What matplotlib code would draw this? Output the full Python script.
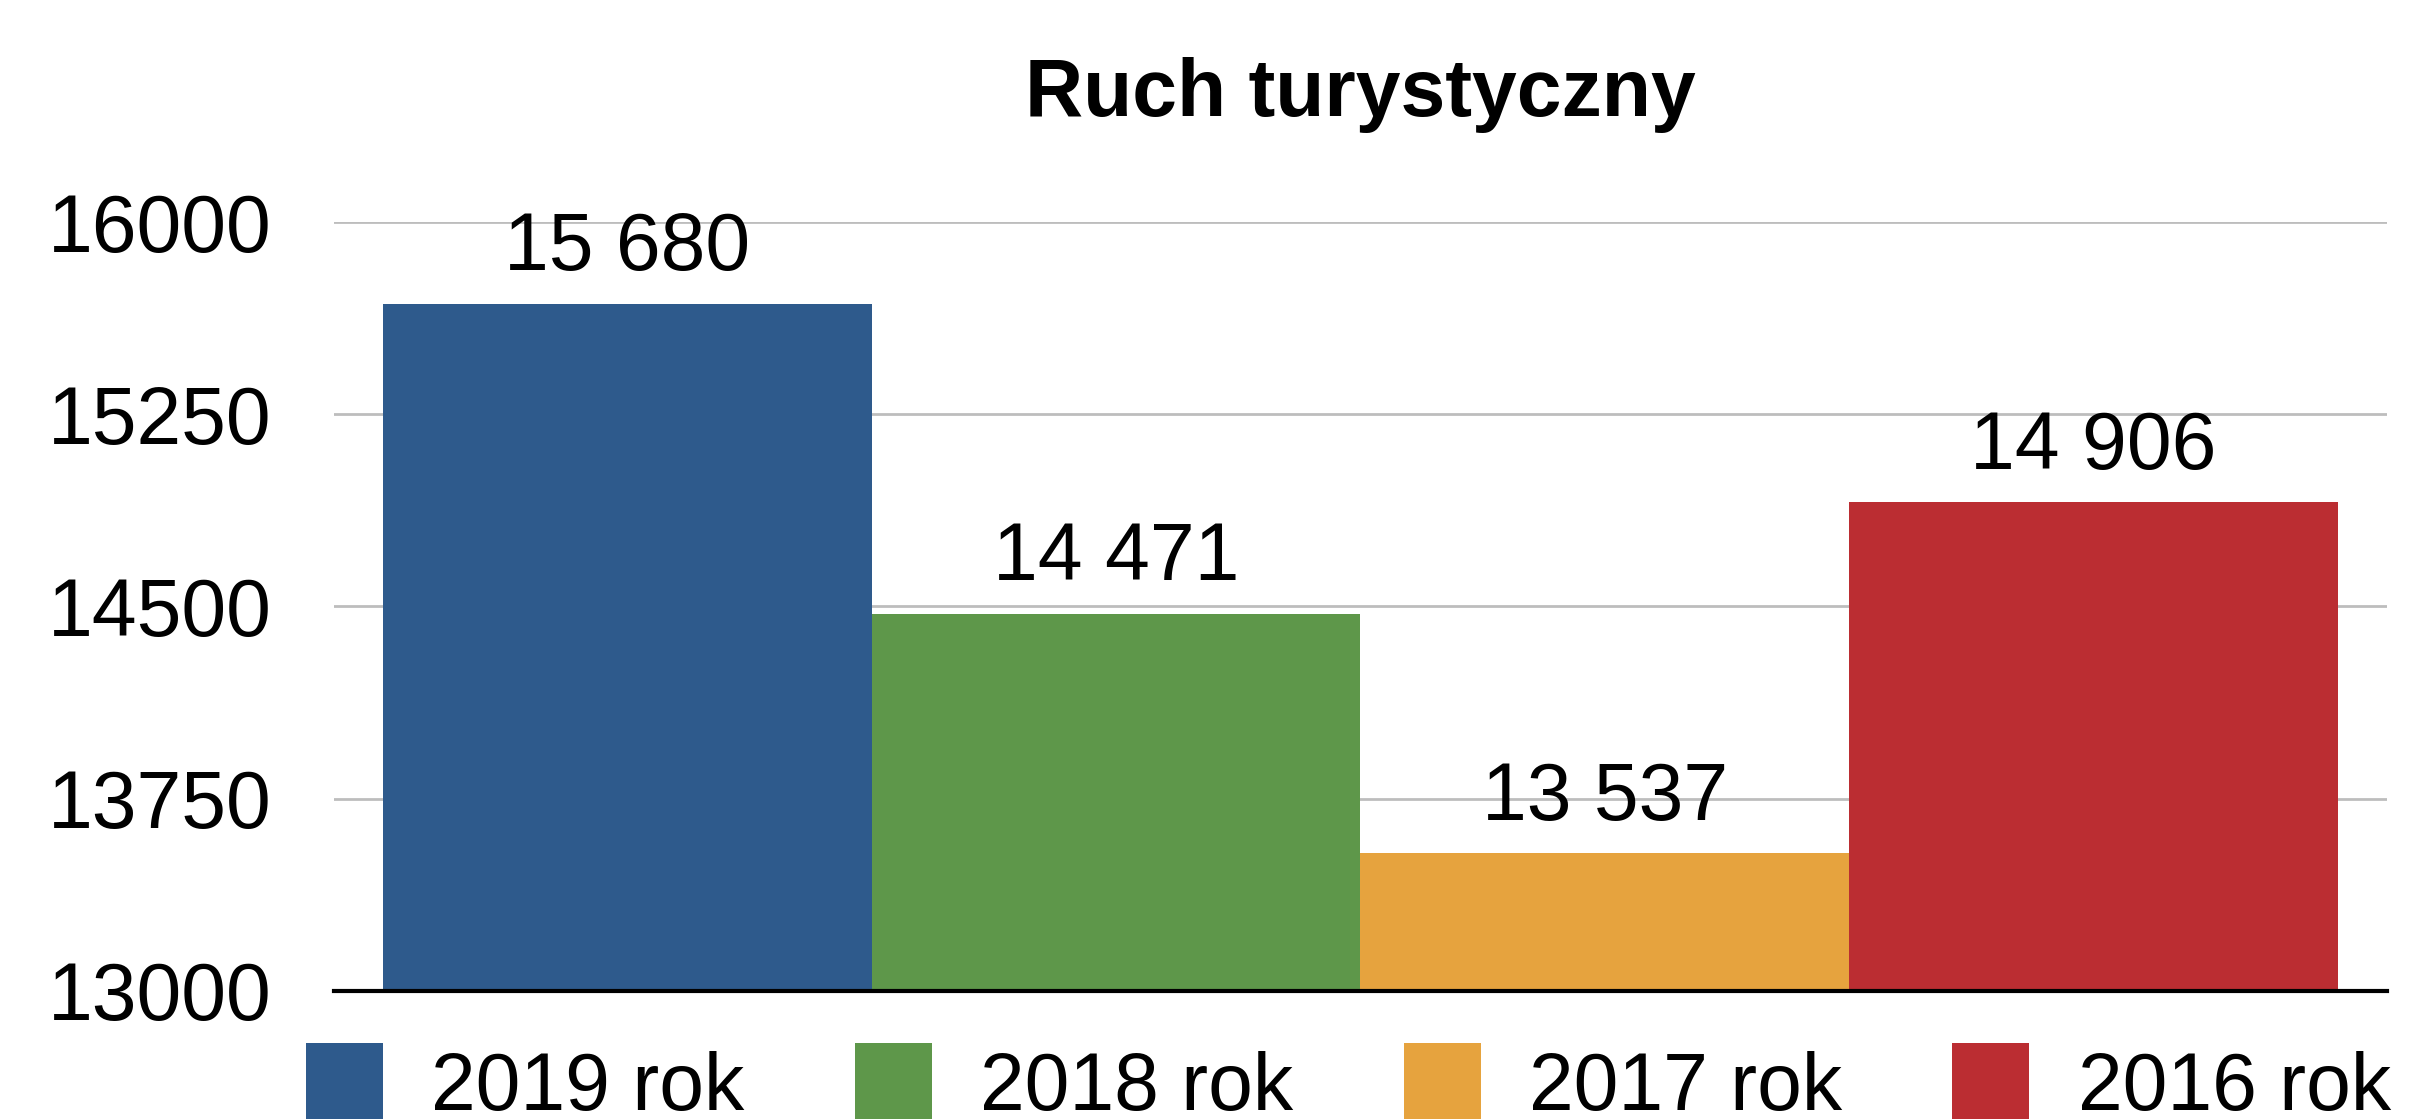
import matplotlib.pyplot as plt

plt.rcParams['font.family'] = ['Liberation Sans', 'DejaVu Sans']

# Dane
kategorie = ['2019 rok', '2018 rok', '2017 rok', '2016 rok']
wartosci = [15680, 14471, 13537, 14906]
kolory = ['#2E5A8C', '#5E974A', '#E6A33E', '#BB2D32']
ticki = [13000, 13750, 14500, 15250, 16000]

FS = 58

fig = plt.figure(figsize=(24.13, 11.19), dpi=100)
ax = fig.add_axes([0.1384, 0.1144, 0.9892 - 0.1384, 0.8016 - 0.1144])

x = range(len(kategorie))
bars = ax.bar(x, wartosci, width=1.0, color=kolory, label=kategorie, zorder=3)

etykiety = [f'{v:,}'.replace(',', ' ') for v in wartosci]
ax.bar_label(bars, labels=etykiety, padding=12, fontsize=FS)

ax.set_ylim(13000, 16000)
ax.set_xlim(-0.6, 3.6)
ax.set_yticks(ticki)
ax.set_yticklabels([str(t) for t in ticki], fontsize=FS)
ax.set_xticks([])
ax.tick_params(axis='y', length=0, pad=45)
ax.yaxis.grid(True, color='#BDBDBD', linewidth=2, zorder=0)

for s in ['top', 'right', 'left']:
    ax.spines[s].set_visible(False)
ax.spines['bottom'].set_linewidth(3)
ax.spines['bottom'].set_color('black')
ax.spines['bottom'].set_zorder(4)

ax.set_title('Ruch turystyczny', fontsize=FS, fontweight='bold', pad=76)

fig.legend(bars, kategorie, loc='upper left', bbox_to_anchor=(306 / 2413, 1 - 1043 / 1119),
           ncol=4, frameon=False, fontsize=FS, borderpad=0, borderaxespad=0,
           handlelength=0.955, handleheight=1.15, handletextpad=0.6, columnspacing=1.37)

plt.savefig('out.png', dpi=100)
